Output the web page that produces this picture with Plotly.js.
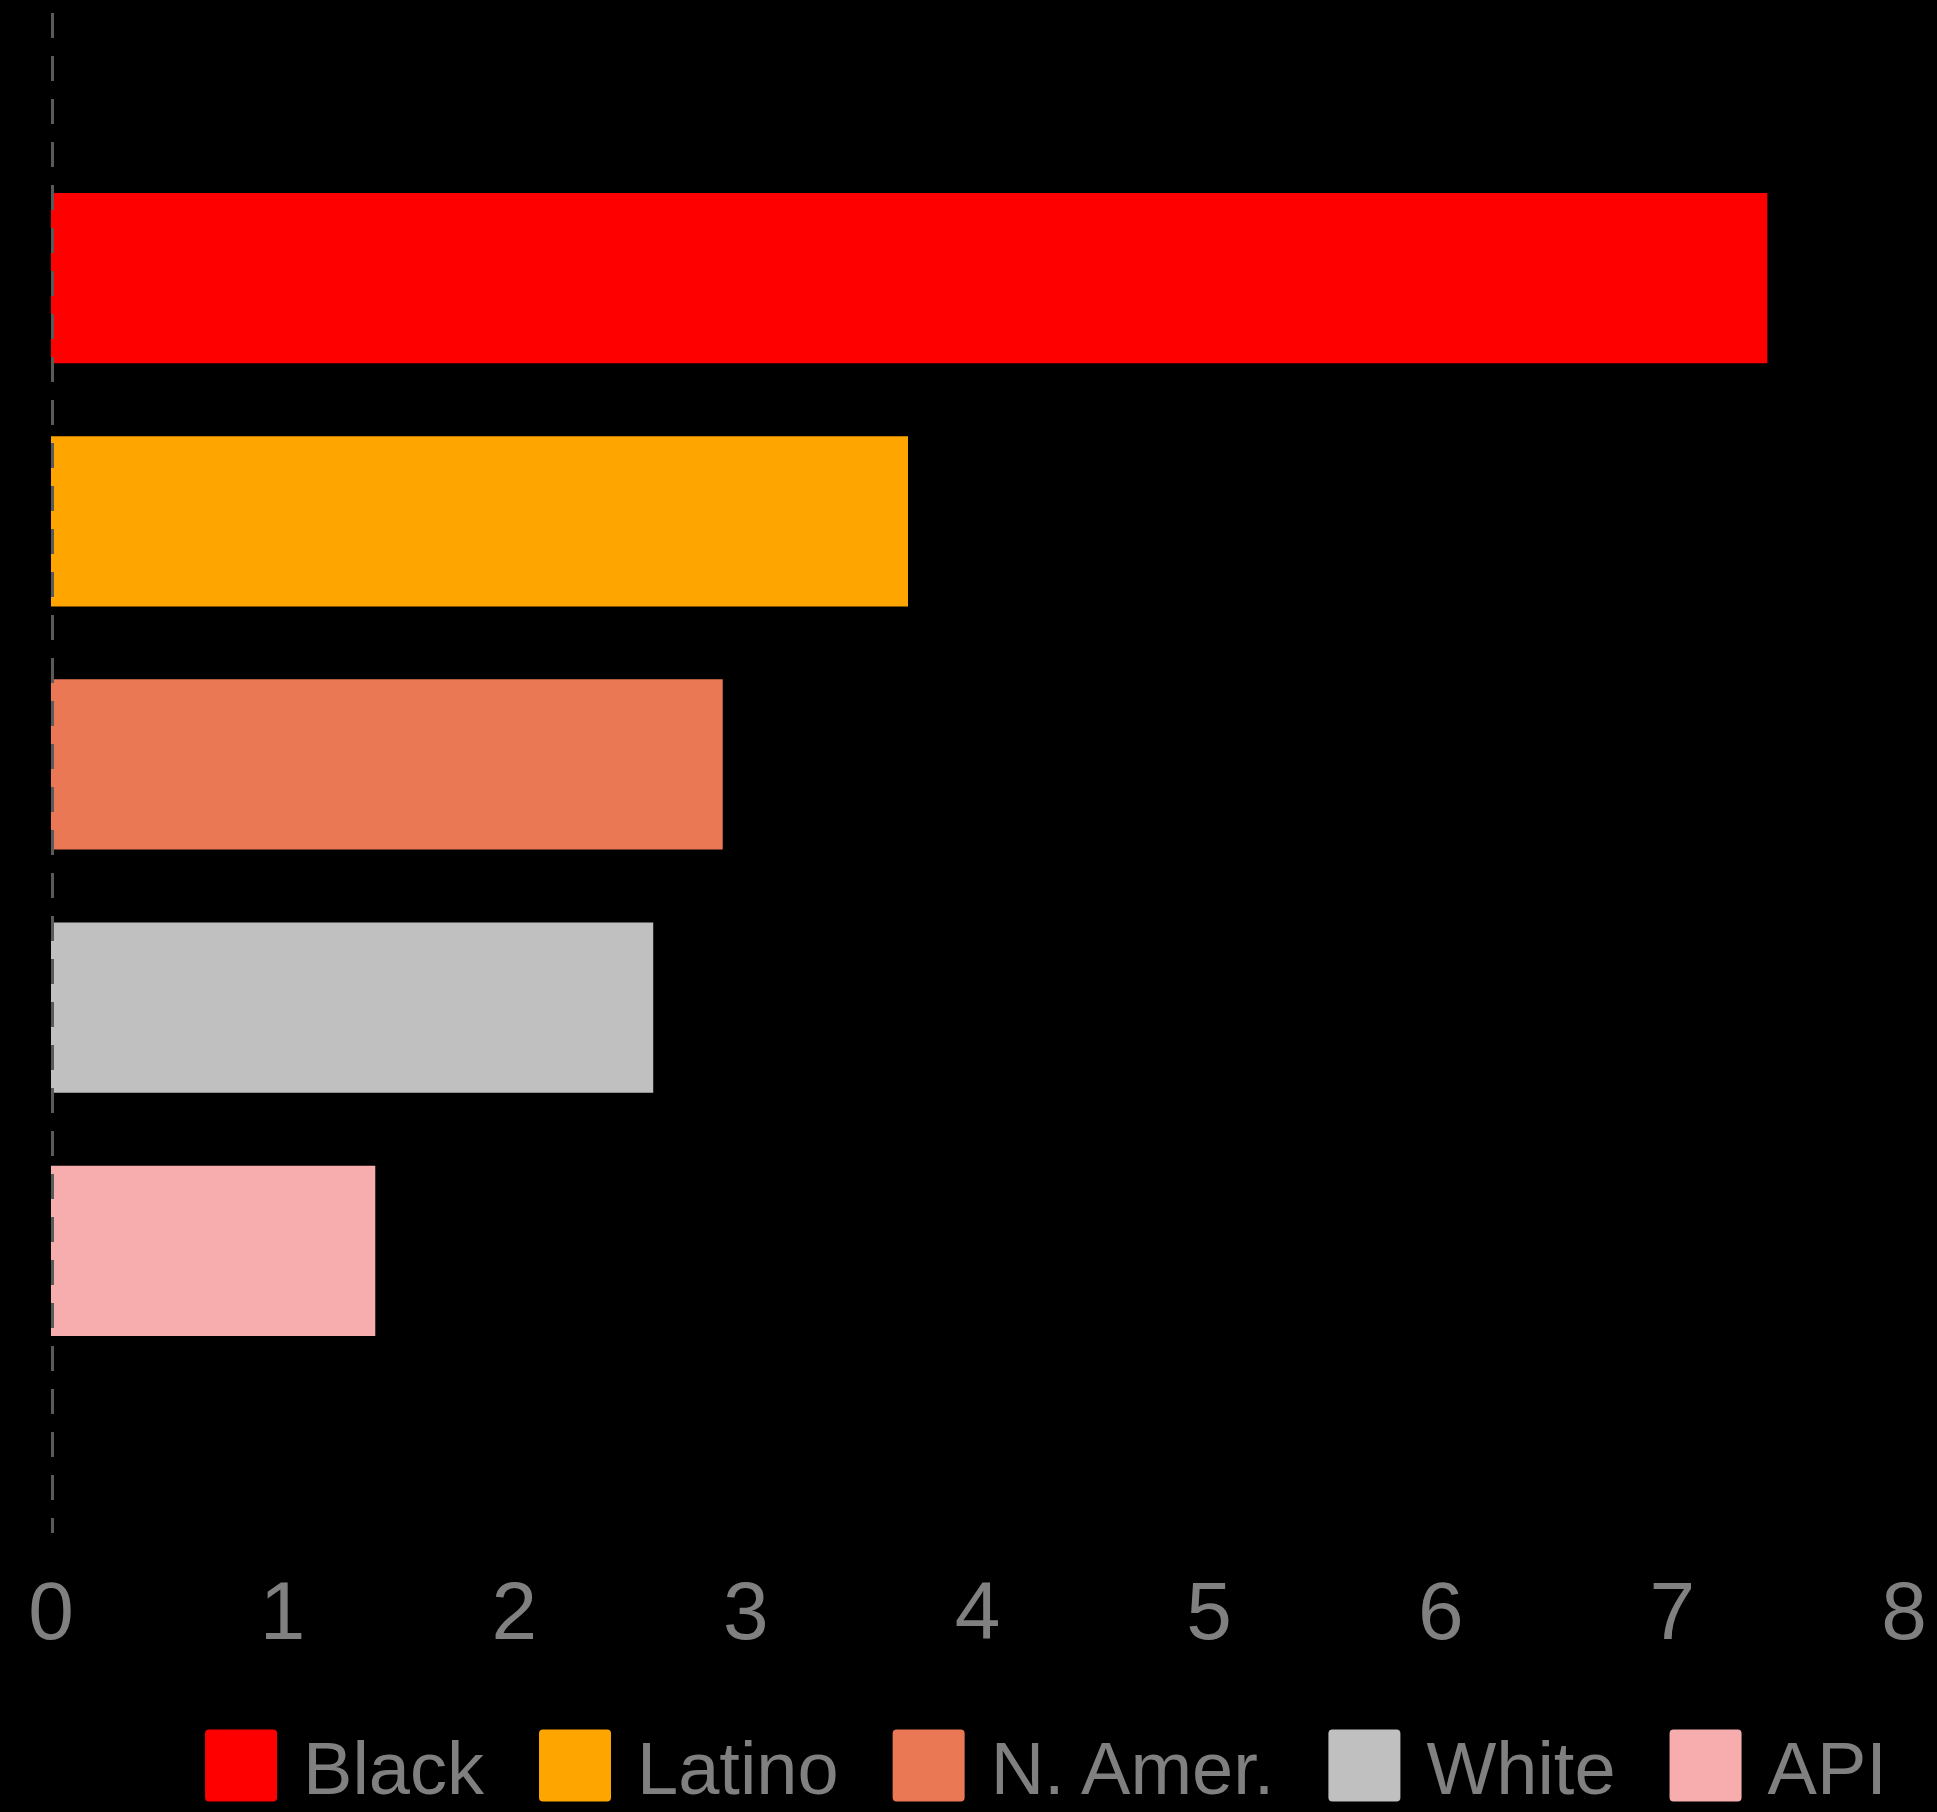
<!DOCTYPE html>
<html>
<head>
<meta charset="utf-8">
<script src="https://cdn.plot.ly/plotly-3.0.1.min.js"></script>
<style>
  html, body { margin: 0; padding: 0; background: #000; }
  #chart { width: 1937px; height: 1812px; }
</style>
</head>
<body>
<div id="chart"></div>
<script>
// ---- data ----
const groups = ['Black', 'Latino', 'N. Amer.', 'White', 'API'];
const values = [7.41, 3.70, 2.90, 2.60, 1.40];
const colors = ['#ff0000', '#ffa500', '#eb7855', '#c0c0c0', '#f7adad'];
const category = ['Rate'];
const xTicks = [0, 1, 2, 3, 4, 5, 6, 7, 8];

const FONT = 'Liberation Sans, Arial, Helvetica, sans-serif';
const TEXT_COLOR = '#808080';

const data = groups.map(function (g, i) {
  return {
    type: 'bar',
    orientation: 'h',
    name: g,
    x: [values[i]],
    y: category,
    marker: { color: colors[i], line: { width: 0 } },
    hoverinfo: 'skip'
  };
});

const layout = {
  width: 1937,
  height: 1812,
  paper_bgcolor: '#000000',
  plot_bgcolor: '#000000',
  margin: { l: 51, r: 33, t: 13, b: 279, pad: 0, autoexpand: false },
  barmode: 'group',
  bargap: 0.2,
  bargroupgap: 0.3,
  hovermode: false,
  font: { family: FONT, color: TEXT_COLOR },
  xaxis: {
    range: [xTicks[0], xTicks[xTicks.length - 1]],
    tickvals: xTicks,
    ticktext: xTicks.map(String),
    showgrid: false,
    zeroline: false,
    showline: false,
    ticks: '',
    ticklabelstandoff: 23,
    tickfont: { family: FONT, size: 82, color: TEXT_COLOR }
  },
  yaxis: {
    type: 'category',
    range: [0.5056, -0.4944],
    showticklabels: false,
    showgrid: false,
    zeroline: false,
    showline: false,
    ticks: ''
  },
  shapes: [{
    type: 'line',
    xref: 'x', yref: 'paper',
    x0: xTicks[0], x1: xTicks[0],
    y0: 1, y1: 0,
    layer: 'above',
    line: { color: '#5a5a5a', width: 6, dash: '25px,18px' }
  }],
  showlegend: true,
  legend: {
    orientation: 'h',
    x: 0.0567,
    xanchor: 'left',
    y: -0.1533,
    yanchor: 'middle',
    itemwidth: 137,
    bgcolor: 'rgba(0,0,0,0)',
    borderwidth: 0,
    font: { family: FONT, size: 74, color: TEXT_COLOR },
    itemclick: false,
    itemdoubleclick: false
  }
};

Plotly.newPlot('chart', data, layout, { displayModeBar: false, staticPlot: true }).then(function (gd) {
  // enlarge legend swatches to the big square boxes of the reference
  gd.querySelectorAll('.legend .legendpoints path').forEach(function (p) {
    p.setAttribute('d', 'M47.5,32Q47.5,36 43.5,36H-20.5Q-24.5,36 -24.5,32V-32Q-24.5,-36 -20.5,-36H43.5Q47.5,-36 47.5,-32Z');
  });
});
</script>
</body>
</html>
